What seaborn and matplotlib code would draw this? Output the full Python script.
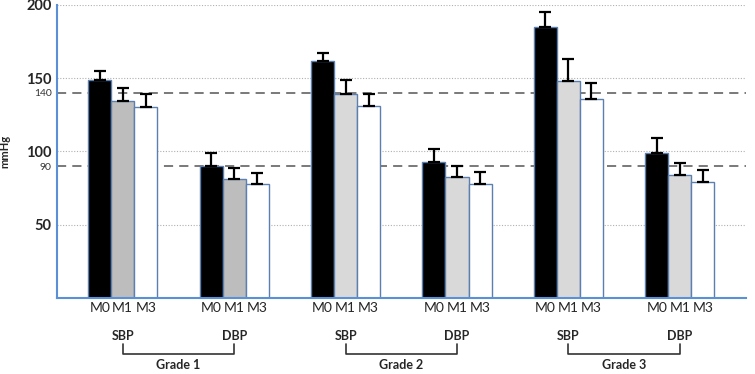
import pandas as pd
import seaborn as sns
import matplotlib.pyplot as plt
import matplotlib.transforms as mtransforms

grades = ["Grade 1", "Grade 2", "Grade 3"]
measures = ["SBP", "DBP"]
times = ["M0", "M1", "M3"]

# means per group: G1 SBP, G1 DBP, G2 SBP, G2 DBP, G3 SBP, G3 DBP
m0 = [149, 90, 162, 93, 185, 99]
m1 = [134.5, 81, 139, 82.5, 148, 84]
m3 = [130, 78, 131, 78, 136, 79]
m0_sd = [6, 9, 5, 9, 10, 10]
m1_sd = [8.5, 8, 9.5, 7.5, 15, 8]
m3_sd = [9, 7, 8, 8, 11, 8.5]

major_ticks = [50, 100, 150, 200]
ref_lines = [90, 140]

groups = [f"{g} {m}" for g in grades for m in measures]
rows = []
for t, vals, sds in zip(times, [m0, m1, m3], [m0_sd, m1_sd, m3_sd]):
    for g, v, s in zip(groups, vals, sds):
        rows.append({"group": g, "time": t, "value": v, "sd": s})
df = pd.DataFrame(rows)

sns.set_style("white")
plt.rcParams["font.family"] = ["Lato", "DejaVu Sans"]

fig = plt.figure(figsize=(7.55, 3.74), dpi=100)
ax = fig.add_axes([0.0755, 0.203, 0.912, 0.784])

palette = {"M0": "black", "M1": "#d9d9d9", "M3": "white"}
sns.barplot(data=df, x="group", y="value", hue="time", order=groups,
            hue_order=times, palette=palette, errorbar=None, width=0.62,
            gap=0, edgecolor="#5b7fae", linewidth=1, legend=False, ax=ax,
            saturation=1)

# grade 1 M1 bars are a darker grey in the original
for bar in list(ax.containers[1])[:2]:
    bar.set_facecolor("#bdbdbd")

xs, labels = [], []
for cont, t in zip(ax.containers, times):
    sub = df[df["time"] == t].set_index("group").loc[groups]
    cx = [b.get_x() + b.get_width() / 2 for b in cont]
    hs = [b.get_height() for b in cont]
    ax.errorbar(cx, hs, yerr=[[0] * len(hs), sub["sd"].values], fmt="none",
                ecolor="black", elinewidth=1.6, capsize=4, capthick=1.6, zorder=3)
    xs += cx
    labels += [t] * len(cx)

for y in major_ticks:
    ax.axhline(y, color="#b0b0b0", lw=0.8, ls=(0, (1, 1.5)), zorder=0)
for y in ref_lines:
    ax.axhline(y, color="#555555", lw=1.1, ls=(0, (6, 4)), zorder=0)

ax.set_ylim(0, 200)
ax.set_xlim(-0.59, 5.59)
ax.set_xticks(xs, labels, fontsize=10)
yt = sorted(major_ticks + ref_lines)
ax.set_yticks(yt, [str(v) for v in yt])
for lab in ax.get_yticklabels():
    if int(lab.get_text()) in ref_lines:
        lab.set_fontsize(7.5)
        lab.set_color("#333333")
    else:
        lab.set_fontsize(10.5)
        lab.set_fontweight("bold")
ax.tick_params(length=0, pad=4)
ax.tick_params(axis="x", pad=3)
ax.set_xlabel("")
ax.set_ylabel("mmHg", fontsize=8, fontweight="bold")
ax.yaxis.set_label_coords(-0.068, 0.5)

for side in ["top", "right"]:
    ax.spines[side].set_visible(False)
for side in ["left", "bottom"]:
    ax.spines[side].set_color("#5b8fd6")
    ax.spines[side].set_linewidth(1.5)

trans = mtransforms.blended_transform_factory(ax.transData, ax.transAxes)
for i, g in enumerate(grades):
    xs_ = 2 * i
    xd = 2 * i + 1
    ax.text(xs_, -0.13, "SBP", transform=trans, ha="center", va="center",
            fontsize=9, fontweight="bold")
    ax.text(xd, -0.13, "DBP", transform=trans, ha="center", va="center",
            fontsize=9, fontweight="bold")
    ax.plot([xs_, xs_, xd, xd], [-0.158, -0.19, -0.19, -0.158], transform=trans,
            color="#333333", lw=1.2, clip_on=False)
    ax.text((xs_ + xd) / 2, -0.228, g, transform=trans, ha="center", va="center",
            fontsize=9, fontweight="bold")

fig.savefig("out.png", dpi=100)
